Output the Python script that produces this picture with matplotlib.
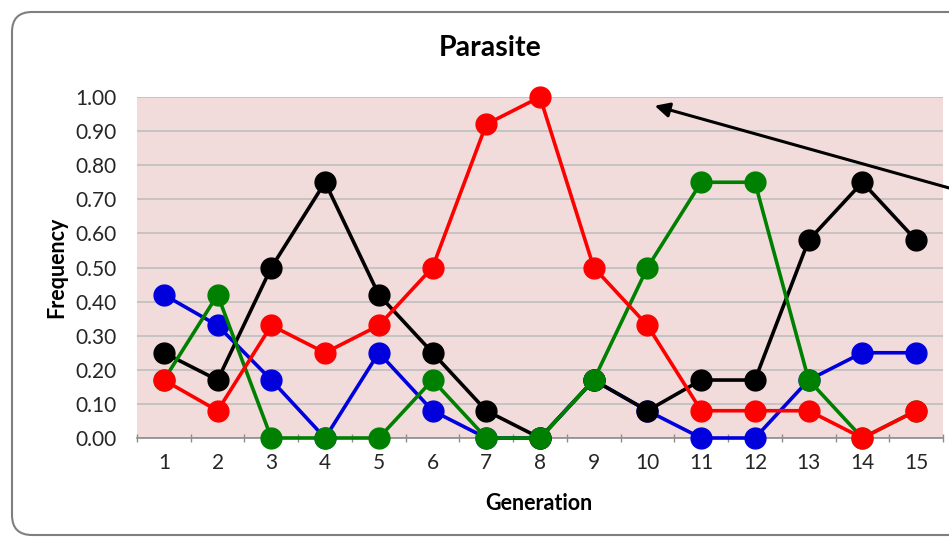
import numpy as np
import matplotlib.pyplot as plt
from matplotlib.patches import FancyBboxPatch
from matplotlib.transforms import IdentityTransform

plt.rcParams['font.family'] = ['Lato', 'DejaVu Sans']

generations = list(range(1, 16))
blue = [0.42, 0.33, 0.17, 0.00, 0.25, 0.08, 0.00, 0.00, 0.17, 0.08, 0.00, 0.00, 0.17, 0.25, 0.25]
black = [0.25, 0.17, 0.50, 0.75, 0.42, 0.25, 0.08, 0.00, 0.17, 0.08, 0.17, 0.17, 0.58, 0.75, 0.58]
green = [0.17, 0.42, 0.00, 0.00, 0.00, 0.17, 0.00, 0.00, 0.17, 0.50, 0.75, 0.75, 0.17, 0.00, 0.08]
red = [0.17, 0.08, 0.33, 0.25, 0.33, 0.50, 0.92, 1.00, 0.50, 0.33, 0.08, 0.08, 0.08, 0.00, 0.08]
yticks = [i / 10 for i in range(11)]

W, H = 949, 537
fig = plt.figure(figsize=(W / 100, H / 100), dpi=100)
fig.patch.set_facecolor('white')

# rounded chart frame (pixel coords), running off the right edge
frame = FancyBboxPatch((12, 2), 1000, H - 14,
                       boxstyle="round,pad=0,rounding_size=20",
                       transform=IdentityTransform(), facecolor='none',
                       edgecolor='#7f7f7f', linewidth=1.5, clip_on=False)
fig.patches.append(frame)

ax = fig.add_axes([137 / W, 99 / H, 806 / W, 341 / H])
ax.set_facecolor('#f2dcdb')

for vals, col in [(blue, '#0000dd'), (black, 'black'), (green, '#008000'), (red, '#ff0000')]:
    ax.plot(generations, vals, color=col, lw=2.6, marker='o', ms=15, zorder=3, clip_on=False)

ax.set_xlim(0.5, 15.5)
ax.set_ylim(0, 1.0)
ax.set_yticks(yticks)
ax.set_yticklabels([f'{t:.2f}' for t in yticks], fontsize=15, color='#262626')
ax.set_xticks(generations)
ax.set_xticklabels([str(g) for g in generations], fontsize=15, color='#262626')
ax.set_xticks(np.arange(0.5, 16, 1), minor=True)
ax.tick_params(axis='x', which='major', length=0, pad=11)
ax.tick_params(axis='x', which='minor', length=6, width=1, color='#8c8c8c', direction='inout')
ax.tick_params(axis='y', length=0, pad=15)
ax.grid(axis='y', color='#bfbfbf', lw=1.2, zorder=1)
ax.set_axisbelow(True)
for s in ['top', 'right', 'left']:
    ax.spines[s].set_visible(False)
ax.spines['bottom'].set_color('#8c8c8c')
ax.spines['bottom'].set_linewidth(1.2)

fig.text(490 / W, 1 - 48 / H, 'Parasite', ha='center', va='center', fontsize=20.5, fontweight='bold')
fig.text(539 / W, 1 - 503 / H, 'Generation', ha='center', va='center', fontsize=15.5, fontweight='bold')
fig.text(57 / W, 1 - 267 / H, 'Frequency', ha='center', va='center', rotation=90, fontsize=15.5, fontweight='bold')

# annotation arrow coming in from the right edge
ax.annotate('', xy=(652 / W, 1 - 105 / H), xycoords='figure fraction',
            xytext=(960 / W, 1 - 191 / H), textcoords='figure fraction',
            arrowprops=dict(arrowstyle='-|>', color='black', lw=2.2, mutation_scale=22),
            annotation_clip=False)

fig.savefig('out.png', dpi=100)
